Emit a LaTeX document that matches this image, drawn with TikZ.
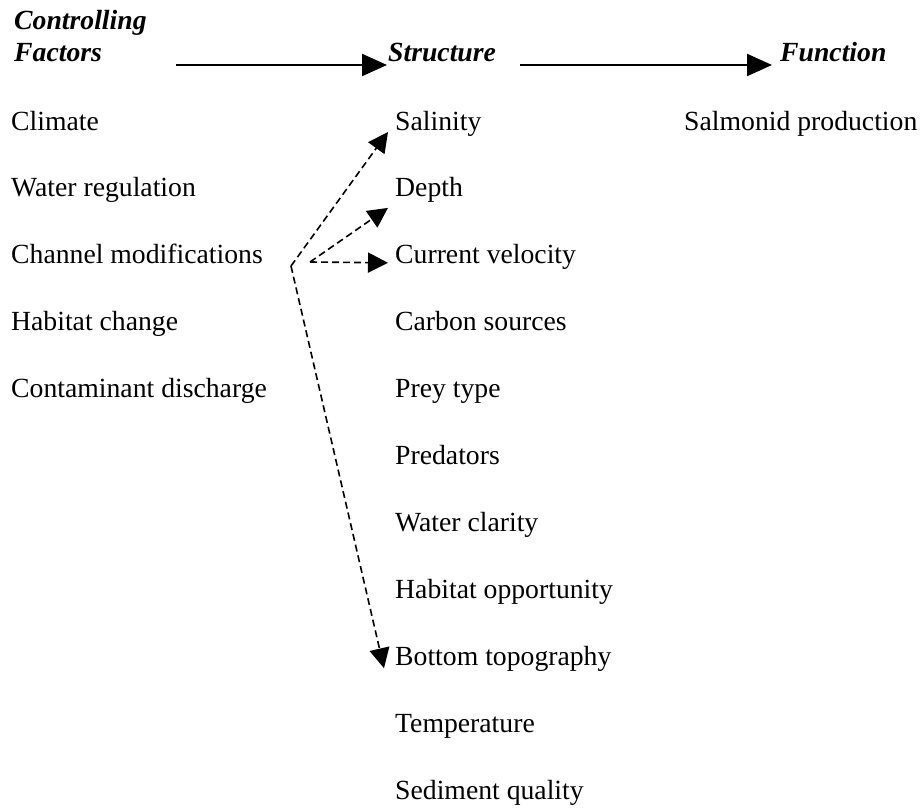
\documentclass[tikz,border=0pt]{standalone}
\usepackage{fontspec}
\setmainfont{Liberation Serif}
\usetikzlibrary{arrows.meta,calc}
\tikzset{
  lbl/.style={anchor=base west, inner sep=0pt, font=\fontsize{27.7}{33}\selectfont},
  hdr/.style={anchor=base west, inner sep=0pt, font=\fontsize{27.7}{33}\selectfont\bfseries\itshape},
  hdrarrow/.style={line width=2.2pt, -{Triangle[length=25pt,width=22pt]}},
  link/.style={line width=1.6pt, dash pattern=on 7pt off 4pt, -{Triangle[length=20pt,width=20pt]}},
}
\begin{document}
\begin{tikzpicture}[x=1pt,y=-1pt]
\useasboundingbox (0,0) rectangle (923,811);
\def\rowgap{66.9}
% column headings
\node[hdr] (ctl) at (14,29) {Controlling};
\node[hdr] (fac) at (14,61) {Factors};
\node[hdr] (str) at (388,61) {Structure};
\node[hdr] (fun) at (780,61) {Function};
\coordinate (a1) at (176,65);
\coordinate (a2) at (520,65);
\draw[hdrarrow] (a1) -- ($(str.base west)+(-1,4)$);
\draw[hdrarrow] (a2) -- ($(fun.base west)+(-8,4)$);
% controlling factors
\foreach \t [count=\i from 0] in {Climate, Water regulation, Channel modifications, Habitat change, Contaminant discharge}
  \node[lbl] (cf\i) at (11,130+\i*\rowgap) {\t};
% structure
\foreach \t [count=\i from 0] in {Salinity, Depth, Current velocity, Carbon sources, Prey type, Predators, Water clarity, Habitat opportunity, Bottom topography, Temperature, Sediment quality}
  \node[lbl] (s\i) at (395,130+\i*\rowgap) {\t};
% function
\node[lbl] (f0) at (684,130) {Salmonid production};
% links from channel modifications
\coordinate (hub) at (291,266);
\coordinate (hub2) at (310,262);
\draw[link] (hub) -- ($(s0.base west)+(-7,2)$);
\draw[link] (hub2) -- ($(s1.base west)+(-7,11)$);
\draw[link] (hub2) -- ($(s2.base west)+(-7,-1)$);
\draw[link] (hub) -- ($(s8.base west)+(-11,3)$);
\end{tikzpicture}
\end{document}
